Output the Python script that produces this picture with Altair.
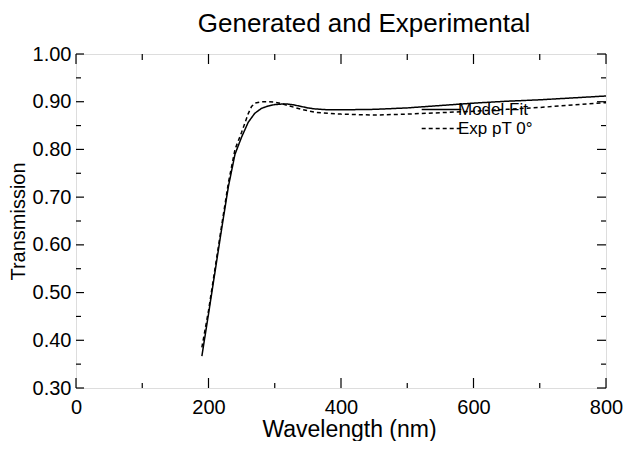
import altair as alt
import pandas as pd

# ---- data ----
model_wl = [190, 200, 210, 220, 230, 240, 250, 260, 270, 280, 290, 300, 310, 320,
            330, 340, 350, 360, 380, 400, 450, 500, 550, 600, 650, 700, 750, 800]
model_t = [0.367, 0.455, 0.545, 0.635, 0.722, 0.790, 0.826, 0.857, 0.876, 0.886,
           0.891, 0.894, 0.895, 0.895, 0.893, 0.890, 0.887, 0.885, 0.883, 0.883,
           0.884, 0.887, 0.892, 0.897, 0.901, 0.904, 0.908, 0.912]

exp_wl = [190, 200, 210, 220, 230, 240, 250, 260, 265, 270, 280, 290, 300, 310,
          320, 340, 360, 380, 400, 450, 500, 550, 600, 650, 700, 750, 800]
exp_t = [0.385, 0.462, 0.552, 0.642, 0.730, 0.800, 0.836, 0.875, 0.890, 0.897,
         0.900, 0.900, 0.899, 0.896, 0.892, 0.884, 0.878, 0.876, 0.874, 0.872,
         0.874, 0.877, 0.880, 0.884, 0.888, 0.893, 0.898]

series_names = ["Model Fit", "Exp pT 0\u00b0"]

x_major = [0, 200, 400, 600, 800]
x_minor = [100, 300, 500, 700]
y_major = [0.3, 0.4, 0.5, 0.6, 0.7, 0.8, 0.9, 1.0]
y_minor = [0.35, 0.45, 0.55, 0.65, 0.75, 0.85, 0.95]

W, H = 530, 334
FONT = "Liberation Sans"

df = pd.concat([
    pd.DataFrame({"wl": model_wl, "t": model_t, "series": series_names[0]}),
    pd.DataFrame({"wl": exp_wl, "t": exp_t, "series": series_names[1]}),
])

xscale = alt.Scale(domain=[0, 800], nice=False, zero=False)
yscale = alt.Scale(domain=[0.3, 1.0], nice=False, zero=False)

xaxis = alt.Axis(values=x_major, format="d", ticks=False, tickSize=0, domain=False,
                 grid=False, labelFontSize=20, labelPadding=9, labelFlush=False,
                 labelFont=FONT, labelColor="black", title="Wavelength (nm)",
                 titleFont=FONT, titleFontSize=23, titleFontWeight="normal",
                 titleColor="black", titlePadding=1, titleX=273)
yaxis = alt.Axis(values=y_major, format=".2f", ticks=False, tickSize=0, domain=False,
                 grid=False, labelFontSize=20, labelPadding=5, labelFlush=False,
                 labelFont=FONT, labelColor="black", title="Transmission",
                 titleFont=FONT, titleFontSize=20, titleFontWeight="normal",
                 titleColor="black", titlePadding=4)

lines = alt.Chart(df).mark_line(color="black", strokeWidth=1.5).encode(
    x=alt.X("wl:Q", scale=xscale, axis=xaxis),
    y=alt.Y("t:Q", scale=yscale, axis=yaxis),
    strokeDash=alt.StrokeDash(
        "series:N",
        scale=alt.Scale(domain=series_names, range=[[1, 0], [4, 3]]),
        legend=alt.Legend(
            orient="none", legendX=357, legendY=47, title=None, padding=0,
            symbolType="M-3.5,0H3.5", symbolSize=128, symbolStrokeWidth=1.3,
            symbolStrokeColor="black", symbolFillColor="transparent",
            labelFont=FONT, labelFontSize=17, labelColor="black",
            labelOffset=8, rowPadding=1,
        ),
    ),
    order=alt.Order("wl:Q"),
)


def xticks(vals, y0, y1):
    return alt.Chart(pd.DataFrame({"v": vals})).mark_rule(
        color="black", strokeWidth=1.2).encode(
        x=alt.X("v:Q", scale=xscale), y=alt.value(y0), y2=alt.value(y1))


def yticks(vals, x0, x1):
    return alt.Chart(pd.DataFrame({"v": vals})).mark_rule(
        color="black", strokeWidth=1.2).encode(
        y=alt.Y("v:Q", scale=yscale), x=alt.value(x0), x2=alt.value(x1))


ticks = [
    xticks(x_major, H, H - 10), xticks(x_minor, H, H - 5),
    xticks(x_major, 0, 10), xticks(x_minor, 0, 6),
    yticks(y_major, 0, 8), yticks(y_minor, 0, 5),
    yticks(y_major, W, W - 9), yticks(y_minor, W, W - 5),
]

chart = alt.layer(lines, *ticks).properties(
    width=W, height=H,
    title=alt.TitleParams(
        "Generated and Experimental", font=FONT, fontSize=26, fontWeight="normal",
        color="black", anchor="middle", frame="group", dx=23, offset=7),
    autosize=alt.AutoSizeParams(type="none"),
    padding={"left": 68, "top": 46, "right": 17, "bottom": 53},
).configure_view(stroke="black", strokeWidth=1.5).configure(background="white")

chart.save("out.html", embed_options={"renderer": "svg", "actions": False})
